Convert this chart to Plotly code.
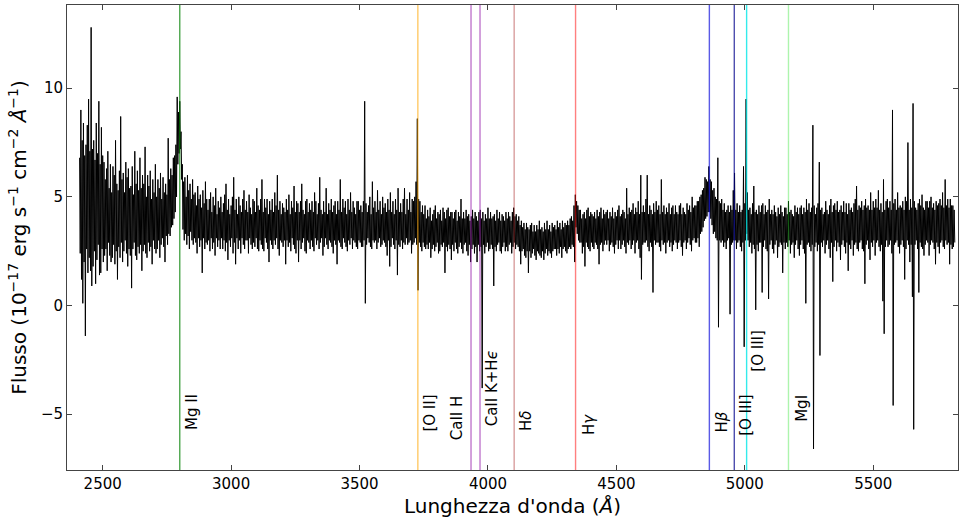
import plotly.graph_objects as go

# ---- data ----
# The spectrum is read as two interleaved series: upper and lower excursions
# of the noisy trace, every 5 Angstrom, the lower ones offset by 2.5 Angstrom.
wave_start = 2410   # Angstrom
wave_step = 5       # Angstrom

flux_hi = [
    6.8, 9.0, 7.6, 8.4, 6.9, 7.4, 8.3, 9.5, 7.1, 12.8,   # 2410
    7.2, 7.6, 6.7, 8.4, 7.0, 9.4, 6.5, 8.2, 6.9, 6.6,
    5.8, 6.3, 7.1, 5.4, 6.5, 5.2, 6.4, 6.0, 7.6, 5.6,
    5.3, 6.2, 8.7, 5.8, 6.1, 5.2, 6.6, 5.9, 6.3, 5.4,
    5.5, 6.4, 5.1, 7.1, 5.6, 6.2, 5.3, 6.8, 5.4, 6.0,
    5.6, 7.3, 5.0, 6.0, 5.5, 6.2, 4.9, 5.8, 5.2, 6.5,
    5.0, 5.8, 5.4, 6.1, 4.9, 5.9, 5.2, 5.6, 5.1, 7.7,
    5.8, 6.3, 6.0, 6.8, 6.9, 7.4, 9.6, 8.9, 9.4, 8.0,
    6.5, 5.7, 5.9, 5.0, 6.0, 5.3, 5.6, 4.9, 5.8, 5.1,   # 2810
    5.2, 4.6, 5.5, 4.9, 5.1, 4.5, 5.3, 4.7, 5.7, 4.9,
    4.4, 4.9, 5.2, 4.3, 5.0, 4.6, 5.4, 4.2, 4.8, 4.5,
    5.0, 4.3, 4.7, 5.1, 5.6, 4.4, 4.9, 4.2, 4.6, 5.0,
    5.9, 4.4, 4.9, 4.2, 5.0, 4.6, 4.3, 4.9, 5.3, 4.4,
    4.8, 4.3, 5.1, 4.5, 4.2, 4.9, 4.8, 4.3, 5.4, 4.6,
    4.4, 4.9, 5.8, 4.3, 4.9, 4.5, 4.9, 4.2, 4.8, 4.4,
    4.9, 4.3, 5.2, 4.6, 6.0, 4.4, 4.8, 4.2, 4.7, 4.5,
    4.3, 4.9, 4.4, 5.1, 4.2, 4.8, 4.5, 5.5, 4.3, 4.8,   # 3210
    4.7, 4.3, 4.8, 5.6, 4.4, 4.2, 4.8, 4.9, 4.3, 4.7,
    4.4, 4.8, 4.3, 5.2, 4.8, 4.2, 4.7, 5.9, 4.4, 4.2,
    4.8, 4.3, 5.4, 4.2, 4.7, 4.4, 4.9, 4.3, 4.6, 4.8,
    4.2, 4.8, 4.4, 5.8, 4.3, 4.9, 4.5, 4.8, 4.2, 4.9,
    4.4, 5.2, 4.3, 4.8, 4.5, 4.2, 4.8, 4.8, 4.4, 4.6,
    4.3, 4.8, 9.4, 4.7, 4.3, 4.6, 5.0, 4.2, 5.7, 4.5,
    4.8, 4.3, 5.3, 4.4, 4.8, 4.2, 5.0, 4.5, 4.7, 4.3,
    4.9, 4.4, 5.2, 4.3, 4.8, 4.2, 4.9, 4.4, 5.4, 4.3,   # 3610
    4.7, 4.3, 4.9, 5.4, 4.2, 4.9, 4.4, 5.2, 4.3, 4.9,
    4.8, 5.0, 5.7, 8.6, 4.9, 4.8, 4.3, 4.6, 4.2, 4.6,
    4.0, 4.4, 4.1, 4.5, 3.9, 4.2, 4.4, 4.6, 4.0, 4.3,
    4.2, 4.4, 3.9, 4.5, 4.3, 4.0, 4.4, 4.5, 4.1, 4.3,
    4.3, 4.0, 4.3, 4.4, 3.9, 4.3, 4.1, 4.9, 4.0, 4.3,
    4.0, 4.4, 4.1, 4.2, 3.9, 4.1, 4.4, 4.0, 4.3, 4.1,
    3.9, 4.3, 4.4, 4.0, 4.3, 3.9, 4.2, 4.0, 4.5, 4.0,
    4.3, 4.0, 4.1, 4.2, 3.9, 4.4, 4.0, 4.3, 3.9, 4.2,   # 4010
    4.1, 3.9, 4.3, 4.0, 4.3, 4.1, 3.9, 4.3, 4.5, 4.1,
    4.2, 3.9, 4.1, 3.7, 3.9, 3.6, 3.8, 3.5, 3.8, 3.6,
    3.5, 3.7, 3.8, 3.4, 3.7, 3.4, 3.7, 3.5, 3.9, 3.5,
    3.6, 3.4, 3.8, 3.5, 3.9, 3.5, 3.7, 3.4, 3.8, 3.6,
    3.7, 3.5, 3.9, 3.6, 3.8, 3.5, 3.9, 3.6, 3.8, 3.7,
    3.9, 3.7, 4.0, 4.1, 3.9, 4.6, 5.1, 4.8, 4.6, 4.4,
    4.4, 4.0, 4.2, 4.3, 4.0, 4.4, 4.5, 4.1, 4.3, 4.2,
    4.1, 4.3, 4.0, 4.4, 4.1, 4.3, 4.5, 4.0, 4.4, 4.2,   # 4410
    4.3, 4.4, 4.0, 4.3, 4.1, 4.5, 4.0, 4.3, 4.1, 4.4,
    4.6, 4.1, 4.2, 4.4, 4.3, 4.0, 5.4, 4.2, 4.5, 4.3,
    4.4, 4.7, 4.2, 4.5, 4.3, 4.8, 4.2, 6.0, 4.3, 4.6,
    4.3, 4.9, 6.0, 4.2, 4.6, 4.4, 4.2, 4.7, 4.3, 4.8,
    4.4, 4.6, 4.2, 5.8, 4.3, 4.6, 4.2, 4.5, 4.3, 4.7,
    4.2, 4.5, 4.6, 4.2, 4.6, 4.3, 4.2, 4.6, 4.7, 4.2,
    4.5, 4.3, 4.2, 4.7, 4.4, 4.6, 4.3, 5.0, 4.5, 4.6,
    4.6, 4.8, 4.8, 5.0, 5.1, 5.3, 5.4, 5.9, 5.8, 5.7,   # 4810
    6.4, 5.8, 5.7, 5.3, 5.4, 5.0, 4.9, 6.8, 4.8, 4.7,
    4.9, 4.4, 4.7, 4.3, 4.4, 4.6, 4.3, 4.6, 4.4, 5.3,
    6.1, 4.4, 4.7, 4.3, 4.6, 4.3, 4.4, 6.4, 4.7, 9.5,
    5.2, 4.4, 4.5, 4.2, 4.7, 5.5, 4.3, 4.4, 4.2, 4.6,
    4.3, 4.6, 4.7, 4.2, 4.6, 4.3, 4.4, 4.9, 4.2, 4.4,
    4.2, 4.6, 4.3, 4.1, 4.5, 4.2, 4.6, 4.3, 4.1, 4.5,
    4.5, 4.2, 4.8, 4.3, 4.4, 4.2, 4.1, 4.6, 4.3, 4.5,
    4.2, 4.5, 4.6, 4.2, 4.5, 4.3, 4.9, 4.4, 4.7, 4.3,   # 5210
    4.5, 8.3, 4.6, 4.2, 4.5, 4.7, 6.6, 4.4, 4.5, 4.2,
    4.3, 4.8, 4.4, 4.2, 4.6, 4.9, 4.3, 4.6, 4.7, 4.4,
    4.8, 4.3, 4.4, 4.6, 4.3, 4.8, 4.3, 4.7, 4.2, 4.7,
    4.4, 4.5, 4.3, 4.7, 4.9, 5.5, 4.4, 4.6, 4.5, 4.8,
    4.4, 4.6, 4.9, 4.5, 4.6, 4.4, 5.2, 4.4, 4.8, 4.5,
    4.9, 4.5, 5.3, 4.4, 4.7, 4.3, 5.8, 4.4, 4.8, 4.9,
    4.5, 4.8, 4.4, 9.0, 4.7, 4.9, 4.4, 5.2, 4.5, 4.6,
    4.5, 4.8, 4.4, 5.0, 4.8, 7.5, 4.4, 4.9, 4.5, 9.3,   # 5610
    4.8, 4.5, 4.4, 4.7, 4.9, 4.6, 5.1, 4.5, 4.4, 4.8,
    4.8, 4.5, 4.8, 5.0, 4.5, 4.7, 4.4, 4.8, 4.6, 4.7,
    4.9, 4.6, 5.2, 4.5, 5.8, 4.6, 4.9, 4.5, 4.9, 4.6,
    4.6, 4.4,
]

flux_lo = [
    2.4, 1.2, 0.1, 2.0, -1.4, 2.6, 1.5, 2.2, 1.6, 0.9,   # 2412.5
    1.8, 2.5, 1.0, 2.1, 2.8, 1.4, 1.5, 2.6, 2.0, 2.3,
    2.6, 1.6, 2.9, 2.3, 2.0, 2.2, 2.8, 1.9, 2.5, 1.2,
    2.7, 2.2, 2.9, 2.0, 2.5, 3.0, 2.4, 1.8, 2.6, 2.3,
    0.8, 2.6, 2.9, 2.3, 2.1, 2.7, 2.4, 2.8, 1.6, 2.5,
    2.8, 2.4, 2.2, 2.9, 2.5, 2.7, 1.9, 3.0, 2.6, 2.4,
    2.6, 3.0, 2.2, 2.8, 3.1, 2.7, 2.0, 3.2, 2.8, 3.3,
    3.2, 3.6, 3.7, 4.0, 4.3, 5.0, 6.5, 7.0, 7.2, 5.8,
    3.5, 3.0, 3.3, 2.8, 3.2, 2.6, 3.4, 3.0, 2.8, 3.1,   # 2812.5
    2.9, 2.4, 3.1, 2.7, 3.0, 1.5, 3.1, 2.6, 2.9, 2.8,
    3.0, 2.5, 3.1, 2.6, 2.9, 2.3, 3.1, 2.7, 3.0, 2.6,
    3.1, 2.6, 3.0, 2.5, 2.9, 2.1, 3.0, 2.7, 3.1, 2.4,
    2.9, 1.9, 3.1, 2.6, 3.0, 2.4, 3.1, 2.8, 2.6, 3.0,
    3.0, 2.4, 3.1, 2.8, 2.6, 2.9, 2.7, 3.1, 2.6, 2.5,
    3.0, 2.8, 2.6, 2.5, 3.1, 2.9, 2.6, 2.0, 3.0, 2.8,
    2.6, 3.0, 2.8, 3.1, 2.6, 2.3, 3.0, 2.9, 2.7, 3.0,
    1.9, 3.0, 2.7, 2.9, 2.5, 3.1, 2.8, 2.6, 2.4, 3.0,   # 3212.5
    2.0, 3.0, 2.6, 2.9, 3.1, 2.5, 2.4, 3.0, 2.9, 2.6,
    3.0, 2.7, 2.5, 3.1, 2.8, 3.0, 2.6, 2.9, 3.1, 2.3,
    2.7, 3.1, 2.8, 2.6, 3.0, 2.9, 2.7, 2.4, 3.0, 2.8,
    1.9, 3.0, 2.9, 2.7, 2.6, 3.1, 2.9, 2.7, 2.5, 3.0,
    2.8, 3.1, 2.6, 3.0, 2.9, 2.7, 2.6, 3.0, 2.9, 2.7,
    2.7, 3.0, 0.1, 2.8, 3.1, 2.9, 2.7, 2.6, 3.0, 2.9,
    3.0, 2.6, 2.9, 3.1, 2.7, 2.8, 3.0, 2.9, 2.7, 2.3,
    3.0, 1.8, 2.7, 3.1, 2.8, 2.6, 3.0, 1.4, 2.8, 2.7,   # 3612.5
    3.0, 2.6, 2.9, 2.8, 3.1, 2.8, 2.9, 3.0, 2.4, 2.8,
    2.9, 3.1, 2.8, 0.7, 2.9, 2.7, 2.5, 2.9, 2.7, 2.6,
    2.8, 2.6, 2.9, 2.2, 2.6, 2.8, 2.5, 2.7, 2.9, 2.4,
    2.5, 2.8, 2.7, 2.9, 1.5, 2.7, 2.5, 2.8, 2.6, 2.1,
    2.8, 2.5, 2.9, 2.6, 2.4, 2.7, 2.9, 2.6, 2.4, 2.8,
    2.9, 2.5, 2.3, 2.8, 2.0, 2.6, 2.8, 2.4, 2.7, 2.0,
    2.8, 2.5, 2.7, -3.8, 2.8, 2.4, 2.7, 2.9, 2.5, 2.6,
    2.8, 2.6, 0.9, 2.7, 2.5, 2.8, 2.9, 2.5, 2.4, 2.7,   # 4012.5
    2.9, 2.5, 2.7, 2.5, 2.8, 2.9, 2.4, 2.7, 2.9, 2.6,
    2.8, 2.7, 2.5, 1.9, 2.5, 2.6, 2.3, 2.2, 2.5, 1.5,
    2.5, 2.2, 2.4, 2.6, 2.3, 2.1, 2.5, 2.4, 2.3, 2.2,
    2.5, 2.1, 2.4, 2.6, 2.3, 2.5, 2.4, 2.2, 2.5, 2.6,
    2.6, 2.3, 2.6, 2.4, 2.7, 2.2, 2.6, 2.7, 2.5, 2.4,
    2.6, 2.7, 2.6, 2.8, 2.7, 2.0, 3.6, 3.3, 3.0, 2.9,
    2.9, 2.4, 2.7, 1.8, 2.9, 2.7, 2.6, 2.5, 2.9, 2.7,
    2.6, 2.9, 2.8, 2.6, 1.9, 2.8, 2.9, 2.5, 2.8, 3.0,   # 4412.5
    2.8, 3.0, 2.5, 2.8, 2.9, 2.7, 2.4, 2.8, 3.0, 2.6,
    3.0, 2.6, 2.8, 3.0, 2.7, 2.4, 2.9, 2.8, 3.0, 2.6,
    2.8, 3.0, 2.4, 2.9, 3.0, 2.6, 2.2, 1.2, 2.8, 2.9,
    2.9, 3.0, 2.7, 2.5, 2.9, 2.7, 0.6, 3.0, 2.8, 2.9,
    2.9, 2.7, 2.5, 3.0, 2.8, 2.9, 2.4, 2.9, 3.0, 2.7,
    2.9, 2.5, 2.8, 3.0, 2.9, 2.6, 2.9, 3.0, 2.7, 2.3,
    2.9, 3.0, 2.6, 2.9, 3.1, 2.8, 2.5, 3.0, 3.1, 2.9,
    2.9, 3.1, 2.7, 3.3, 3.4, 3.6, 3.9, 4.0, 4.1, 4.3,   # 4812.5
    4.3, 4.0, 3.7, 3.3, 3.4, 3.1, 3.0, -1.0, 3.0, 2.9,
    3.0, 2.7, 2.9, 2.6, 3.0, 3.1, -0.4, 2.8, 2.9, 3.0,
    3.0, 2.6, 2.9, 3.0, 2.7, 2.5, 2.9, -1.9, 3.0, 3.3,
    3.0, 2.7, 2.9, 2.4, 2.8, 2.6, -0.2, 2.8, 2.5, 2.9,
    2.9, 0.6, 2.7, 3.0, 2.6, 2.5, 0.3, 2.8, 3.0, 2.6,
    2.4, 2.8, 3.0, 2.2, 2.7, 2.9, 2.8, 1.5, 2.9, 2.6,
    2.9, 2.7, 3.0, 2.4, 2.8, 2.9, 2.2, 2.8, 3.0, 2.6,
    2.3, 2.8, 3.0, 2.6, 2.4, 0.1, 2.8, 2.9, 2.7, 2.5,   # 5212.5
    2.8, -6.6, 2.7, 2.9, 2.5, 2.8, -2.3, 2.9, 2.7, 3.0,
    2.4, 2.8, 3.0, 2.6, 2.2, 2.9, 1.1, 2.7, 3.0, 2.5,
    2.9, 2.7, 2.1, 2.8, 3.0, 2.7, 2.4, 2.9, 1.6, 2.8,
    2.6, 3.0, 2.3, 2.8, 2.9, 2.6, 2.5, 2.9, 3.0, 2.6,
    2.5, 1.0, 2.8, 3.0, 2.6, 2.1, 2.9, 2.7, 3.0, 2.3,
    2.9, 3.0, 2.7, 2.5, 2.8, 0.2, -1.3, 2.7, 3.0, 2.7,
    2.8, 3.0, 2.4, -4.6, 2.8, 2.9, 3.0, 2.7, 2.4, 2.8,
    3.0, 2.7, 1.2, 2.6, 3.0, 2.8, 2.0, 2.8, 0.4, -5.7,  # 5612.5
    2.8, 3.0, 2.6, 0.6, 2.9, 2.7, 2.6, 2.3, 2.8, 3.0,
    2.9, 2.3, 2.8, 3.0, 2.9, 2.6, 1.9, 2.9, 2.7, 2.4,
    2.9, 3.0, 2.7, 2.6, 3.0, 2.8, 2.9, 1.9, 2.8, 2.6,
    2.7, 2.9,
]

line_names = ["Mg II", "[O II]", "CaII H", "CaII K+H<i>ϵ</i>", "H<i>δ</i>",
              "H<i>γ</i>", "H<i>β</i>", "[O III]", "[O III]", "MgI"]
line_waves = [2800, 3727, 3934, 3969, 4102, 4341, 4862, 4959, 5007, 5170]

x_ticks = [2500, 3000, 3500, 4000, 4500, 5000, 5500]
y_ticks = [-5, 0, 5, 10]

# ---- styles ----
line_colors = ["rgba(0,128,0,0.7)", "rgba(255,165,0,0.6)", "rgba(150,30,170,0.6)",
               "rgba(150,30,170,0.6)", "rgba(170,40,40,0.45)", "rgba(255,0,0,0.5)",
               "rgba(20,20,220,0.7)", "rgba(0,0,139,0.7)", "rgba(0,230,230,0.8)",
               "rgba(0,220,0,0.32)"]
# label centre positions (data units)
label_x = [2848, 3774, 3878, 4015, 4148, 4393, 4913, 5007, 5053, 5220]
label_y = [-4.90, -4.93, -5.16, -3.82, -5.32, -5.46, -5.36, -5.05, -2.06, -4.74]

# interleave the two readings along wavelength
wave, flux = [], []
for i, (hi, lo) in enumerate(zip(flux_hi, flux_lo)):
    w = wave_start + wave_step * i
    wave += [w, w + wave_step / 2]
    flux += [hi, lo]

fig = go.Figure()
fig.add_trace(go.Scatter(x=wave, y=flux, mode="lines",
                         line=dict(color="black", width=1), hoverinfo="skip",
                         showlegend=False))

for w, c in zip(line_waves, line_colors):
    fig.add_shape(type="line", xref="x", yref="paper", x0=w, x1=w, y0=0, y1=1,
                  line=dict(color=c, width=1.4), layer="above")

for name, lx, ly in zip(line_names, label_x, label_y):
    fig.add_annotation(x=lx, y=ly, xref="x", yref="y", text=name, textangle=-90,
                       showarrow=False, xanchor="center", yanchor="middle",
                       font=dict(family="DejaVu Sans", size=15, color="black"))

axis_common = dict(showline=True, linecolor="#444", linewidth=1, mirror="ticks",
                   ticks="inside", ticklen=5, tickcolor="#444", showgrid=False,
                   zeroline=False, tickfont=dict(family="DejaVu Sans", size=15, color="black"))

fig.update_layout(
    width=960, height=522,
    margin=dict(l=67, r=2, t=5, b=52),
    paper_bgcolor="white", plot_bgcolor="white",
    font=dict(family="DejaVu Sans", color="black"),
    xaxis=dict(range=[2361, 5830], tickvals=x_ticks,
               title=dict(text="Lunghezza d'onda (<i>Å</i>)",
                          font=dict(family="DejaVu Sans", size=20), standoff=6),
               **axis_common),
    yaxis=dict(range=[-7.57, 13.83], tickvals=y_ticks,
               title=dict(text="Flusso (10<sup>−17</sup> erg s<sup>−1</sup> cm<sup>−2</sup> <i>Å</i><sup>−1</sup>)",
                          font=dict(family="DejaVu Sans", size=20), standoff=8),
               **axis_common),
)

fig.write_html("out.html")
